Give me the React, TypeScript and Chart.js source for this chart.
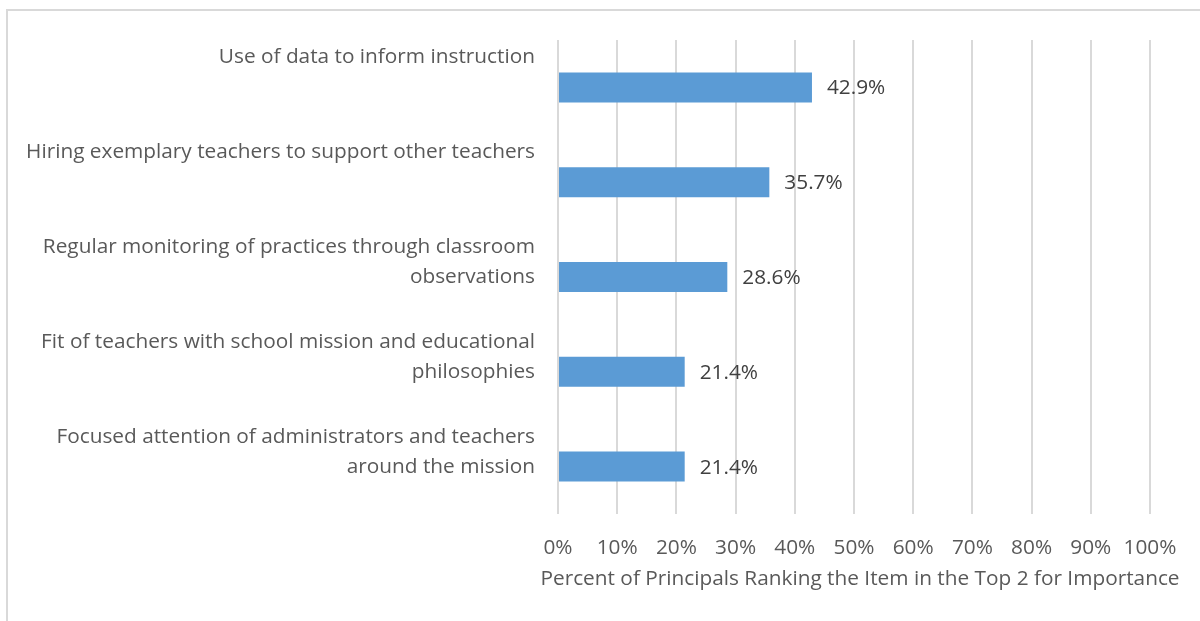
import React, { useEffect, useRef } from "react";
import { Chart, registerables } from "chart.js";

Chart.register(...registerables);

const categories: string[][] = [
  ["Use of data to inform instruction", "", ""],
  ["Hiring exemplary teachers to support other teachers", "", ""],
  ["Regular monitoring of practices through classroom", "observations", ""],
  ["Fit of teachers with school mission and educational", "philosophies", ""],
  ["Focused attention of administrators and teachers", "around the mission", ""],
];
const values: number[] = [42.9, 35.7, 28.6, 21.4, 21.4];
const axisTitle = "Percent of Principals Ranking the Item in the Top 2 for Importance";
const xMin = 0;
const xMax = 100;
const xStep = 10;

const FONT = "'Open Sans', Lato, sans-serif";
const FS = 20.8;

const dataLabels = {
  id: "dataLabels",
  afterDatasetsDraw(chart: any) {
    const ctx = chart.ctx;
    const meta = chart.getDatasetMeta(0);
    ctx.save();
    ctx.font = `${FS}px ${FONT}`;
    ctx.fillStyle = "#404040";
    ctx.textAlign = "left";
    ctx.textBaseline = "middle";
    meta.data.forEach((bar: any, i: number) => {
      const v = chart.data.datasets[0].data[i];
      ctx.fillText(v.toFixed(1) + "%", bar.x + 15, bar.y + 1);
    });
    ctx.restore();
  },
};

// Axis title drawn without Chart.js' maxWidth squeeze (the title is wider than the plot area)
const wideAxisTitle = {
  id: "wideAxisTitle",
  afterDraw(chart: any) {
    const ctx = chart.ctx;
    const area = chart.chartArea;
    ctx.save();
    ctx.font = `${FS}px ${FONT}`;
    ctx.fillStyle = "#595959";
    ctx.textAlign = "center";
    ctx.textBaseline = "middle";
    ctx.fillText(axisTitle, (area.left + area.right) / 2 + 6, area.bottom + 65);
    ctx.restore();
  },
};

export default function App() {
  const ref = useRef<HTMLCanvasElement>(null);
  useEffect(() => {
    if (!ref.current) return;
    const chart = new Chart(ref.current, {
      type: "bar",
      data: {
        labels: categories,
        datasets: [
          {
            data: values,
            backgroundColor: "#5B9BD5",
            borderWidth: 0,
            categoryPercentage: 1,
            barPercentage: 0.316,
          },
        ],
      },
      options: {
        indexAxis: "y",
        animation: false,
        responsive: false,
        maintainAspectRatio: false,
        layout: { padding: { left: 0, top: 40, right: 50, bottom: 0 } },
        plugins: { legend: { display: false }, tooltip: { enabled: false } },
        scales: {
          x: {
            min: xMin,
            max: xMax,
            border: { display: false },
            grid: { color: "#d9d9d9", lineWidth: 2, drawTicks: false },
            ticks: {
              stepSize: xStep,
              autoSkip: false,
              maxRotation: 0,
              padding: 22,
              color: "#595959",
              font: { family: FONT, size: FS, lineHeight: 1.2 },
              callback: (v: any) => v + "%",
            },
            title: { display: false },
            afterFit: (scale: any) => {
              scale.height = 107;
              scale.paddingLeft = 0;
              scale.paddingRight = 0;
            },
          },
          y: {
            border: { display: false },
            grid: { display: false, drawTicks: false },
            ticks: {
              autoSkip: false,
              padding: 23,
              color: "#595959",
              font: { family: FONT, size: FS, lineHeight: "30px" as any },
            },
            afterFit: (scale: any) => {
              scale.width = 558;
              scale.paddingTop = 0;
              scale.paddingBottom = 0;
            },
          },
        },
      },
      plugins: [dataLabels, wideAxisTitle],
    });
    return () => chart.destroy();
  }, []);
  return (
    <div style={{ position: "fixed", left: 0, top: 0, width: 1200, height: 621, overflow: "hidden", background: "#fff" }}>
      <div
        style={{
          position: "absolute",
          left: 6,
          top: 9,
          width: 1400,
          height: 900,
          borderLeft: "2px solid #d9d9d9",
          borderTop: "2px solid #d9d9d9",
        }}
      />
      <canvas ref={ref} width={1200} height={621} style={{ position: "absolute", left: 0, top: 0 }} />
    </div>
  );
}
